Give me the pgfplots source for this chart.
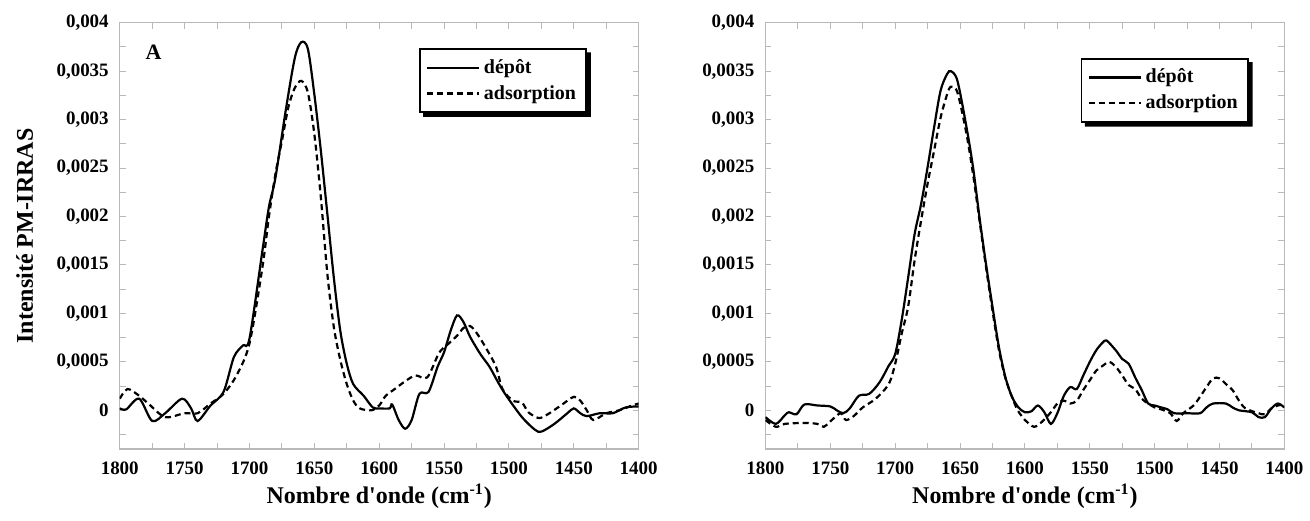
\documentclass[border=0pt]{standalone}
\usepackage{fontspec}
\setmainfont{Liberation Serif}
\usepackage{pgfplots}
\pgfplotsset{compat=1.18}
\begin{document}
\begin{tikzpicture}
\path (-60pt,-36pt) rectangle (595pt,225pt);
\pgfplotsset{
  spec/.style={
    scale only axis, width=260pt, height=213.6pt,
    x dir=reverse, xmin=1400, xmax=1800, ymin=-0.0004, ymax=0.004,
    axis line style={draw=gray!55, line width=0.6pt},
    tick style={draw=gray!55, line width=0.5pt},
    tick align=inside, major tick length=3pt, minor tick length=3pt,
    xtick={1400,1450,...,1800},
    xticklabels={1400,1450,1500,1550,1600,1650,1700,1750,1800},
    minor xtick={1425,1475,...,1775},
    ytick={0,0.0005,0.001,0.0015,0.002,0.0025,0.003,0.0035,0.004},
    yticklabels={0,{0,0005},{0,001},{0,0015},{0,002},{0,0025},{0,003},{0,0035},{0,004}},
    minor ytick={-0.00025,0.00025,0.00075,0.00125,0.00175,0.00225,0.00275,0.00325,0.00375},
    scaled y ticks=false,
    tick label style={font=\bfseries\fontsize{9.5}{11}\selectfont},
    yticklabel style={xshift=-2pt},
    xticklabel style={yshift=-3pt},
    xlabel={Nombre d\textquotesingle onde (cm\textsuperscript{-1})},
    xlabel style={font=\bfseries\fontsize{12}{14}\selectfont, at={(axis description cs:0.5,-0.11)}, anchor=center},
    legend cell align=left,
    legend image code/.code={\draw[##1, line width=1.1pt] (0pt,0pt) -- (26pt,0pt);},
    legend style={font=\bfseries\fontsize{10}{12}\selectfont, draw=black, line width=0.8pt, fill=white,
      inner sep=3pt, row sep=0.5pt},
    every axis plot/.append style={line width=1.1pt, smooth, tension=0.5},
  },
  dsh/.style={dash pattern=on 3pt off 2pt},
}
\begin{axis}[spec, at={(0,0)}, anchor=south west,
  ylabel={Intensité PM-IRRAS},
  ylabel style={font=\bfseries\fontsize{12}{14}\selectfont, at={(axis description cs:-0.183,0.5)}, anchor=center, rotate=0},
  legend style={at={(rel axis cs:0.9,0.94)}, anchor=north east, name=legA}]
\addplot[black] coordinates {
(1800,0.00002)(1795,0.00001)(1785,0.00012)(1775,-0.00011)(1765,-0.00003)(1752,0.00012)(1745,0.00002)(1740,-0.00011)
(1730,0.00005)(1720,0.00019)(1712,0.00055)(1705,0.00067)(1700,0.00074)(1690,0.00165)(1685,0.0021)(1680,0.0024)
(1672,0.0031)(1665,0.00364)(1660,0.0038)(1655,0.00373)(1650,0.00326)(1645,0.00268)(1640,0.00203)(1635,0.00137)
(1630,0.00082)(1625,0.00048)(1620,0.00027)(1612,0.00015)(1605,0.00003)(1600,0.00002)(1592,0.00002)(1590,0.00006)
(1585,-0.0001)(1580,-0.00019)(1575,-0.0001)(1569,0.00017)(1562,0.00019)(1555,0.00045)(1550,0.0006)(1545,0.00082)
(1540,0.00098)(1535,0.00091)(1530,0.00076)(1522,0.00058)(1515,0.00045)(1508,0.00028)(1502,0.00015)(1490,-0.00007)
(1480,-0.0002)(1475,-0.00022)(1465,-0.00014)(1455,-0.00003)(1450,0.00002)(1445,-0.00003)(1440,-0.00006)
(1430,-0.00003)(1420,-0.00003)(1410,0.00003)(1400,0.00004)};
\addlegendentry{dépôt}
\addplot[black, dsh] coordinates {
(1800,0.00012)(1794,0.00022)(1785,0.00015)(1778,0.00007)(1765,-0.00007)(1750,-0.00003)(1740,-0.00003)(1730,0.00007)
(1720,0.00017)(1710,0.00036)(1700,0.00069)(1690,0.00148)(1685,0.002)(1680,0.00244)(1675,0.00278)(1670,0.00313)
(1665,0.00333)(1660,0.0034)(1655,0.00328)(1650,0.00285)(1645,0.0022)(1640,0.00141)(1635,0.00086)(1630,0.00052)
(1625,0.00027)(1620,0.0001)(1615,0.00002)(1606,0.0)(1600,0.00005)(1595,0.00015)(1588,0.00022)(1580,0.0003)
(1572,0.00036)(1563,0.00034)(1554,0.00059)(1548,0.00067)(1540,0.00077)(1535,0.00085)(1530,0.00087)
(1525,0.0008)(1518,0.00065)(1510,0.00045)(1505,0.00022)(1497,0.0001)(1490,0.00008)(1485,-0.00002)
(1477,-0.00008)(1470,-0.00004)(1460,0.00005)(1450,0.00014)(1445,0.0001)(1440,0.0)
(1435,-0.0001)(1425,-0.00003)(1415,0.0)(1405,0.00005)(1400,0.00007)};
\addlegendentry{adsorption}
\node[font=\bfseries\fontsize{11}{13}\selectfont] at (rel axis cs:0.065,0.93) {A};
\end{axis}
\begin{axis}[spec, at={(323.5pt,0)}, anchor=south west,
  legend style={at={(rel axis cs:0.931,0.917)}, anchor=north east, name=legB}]
\addplot[black] coordinates {
(1800,-0.00007)(1792,-0.00014)(1785,-0.00005)(1782,-0.00002)(1776,-0.00004)(1770,0.00006)(1760,0.00005)(1750,0.00004)
(1745,0.0)(1740,-0.00003)(1735,0.00002)(1728,0.00015)(1720,0.00017)(1712,0.00029)(1705,0.00046)(1700,0.00058)
(1695,0.00093)(1690,0.00137)(1685,0.00182)(1680,0.00213)(1675,0.00251)(1670,0.00292)(1665,0.0033)(1660,0.00347)
(1657,0.0035)(1652,0.0034)(1645,0.00292)(1640,0.00251)(1635,0.00199)(1630,0.00151)(1625,0.00107)(1620,0.00065)
(1615,0.00034)(1610,0.00014)(1605,0.00003)(1600,-0.00002)(1595,-0.00001)(1590,0.00005)(1585,-0.00002)(1580,-0.00014)
(1575,-0.00003)(1570,0.00015)(1565,0.00024)(1560,0.00022)(1555,0.00036)(1550,0.0005)(1545,0.00062)(1540,0.0007)
(1537,0.00072)(1530,0.00062)(1525,0.00053)(1520,0.00048)(1515,0.00034)(1510,0.00021)(1505,0.00007)(1500,0.00005)
(1495,0.00003)(1490,0.00001)(1485,-0.00003)(1475,-0.00003)(1465,-0.00003)(1460,0.00003)(1455,0.00007)(1445,0.00007)
(1440,0.00003)(1435,0.0)(1425,-0.00002)(1420,-0.00007)(1415,-0.00007)(1410,0.00002)(1405,0.00007)(1400,0.00003)};
\addlegendentry{dépôt}
\addplot[black, dsh] coordinates {
(1800,-0.0001)(1792,-0.00017)(1785,-0.00014)(1770,-0.00013)(1760,-0.00014)(1755,-0.00017)(1748,-0.00009)(1742,-0.00003)
(1738,-0.0001)(1732,-0.00006)(1725,0.00003)(1715,0.00012)(1705,0.00027)(1700,0.00048)(1695,0.00079)(1690,0.00107)
(1685,0.00155)(1680,0.00196)(1675,0.00234)(1670,0.00268)(1665,0.00302)(1660,0.00326)(1657,0.00334)(1652,0.00328)
(1645,0.00285)(1640,0.00244)(1635,0.00196)(1630,0.00148)(1625,0.00103)(1620,0.00062)(1615,0.00033)(1610,0.00014)
(1606,0.00001)(1603,-0.00005)(1600,-0.0001)(1593,-0.00017)(1587,-0.00012)(1580,-0.00002)(1575,0.00007)(1570,0.0001)
(1565,0.00007)(1560,0.0001)(1555,0.00021)(1550,0.00031)(1545,0.00041)(1540,0.00046)(1535,0.0005)(1530,0.00045)
(1525,0.00036)(1520,0.00026)(1515,0.00022)(1510,0.00012)(1505,0.00007)(1500,0.00003)(1495,0.00001)(1488,-0.00003)
(1483,-0.00011)(1478,-0.00003)(1470,0.00005)(1465,0.00014)(1460,0.00024)(1455,0.00033)(1450,0.00033)(1445,0.00027)
(1440,0.00021)(1435,0.0001)(1430,0.00002)(1420,-0.00003)(1415,-0.00004)(1410,0.00002)(1405,0.00005)(1400,0.00006)};
\addlegendentry{adsorption}
\end{axis}
\foreach \L in {legA,legB}{
  \fill[black] ([xshift=2pt]\L.south west) -- ([xshift=2pt,yshift=-2pt]\L.south west)
    -- ([xshift=2pt,yshift=-2pt]\L.south east) -- ([xshift=2pt,yshift=-2pt]\L.north east)
    -- ([yshift=-2pt]\L.north east) -- (\L.south east) -- cycle;
}
\end{tikzpicture}
\end{document}
